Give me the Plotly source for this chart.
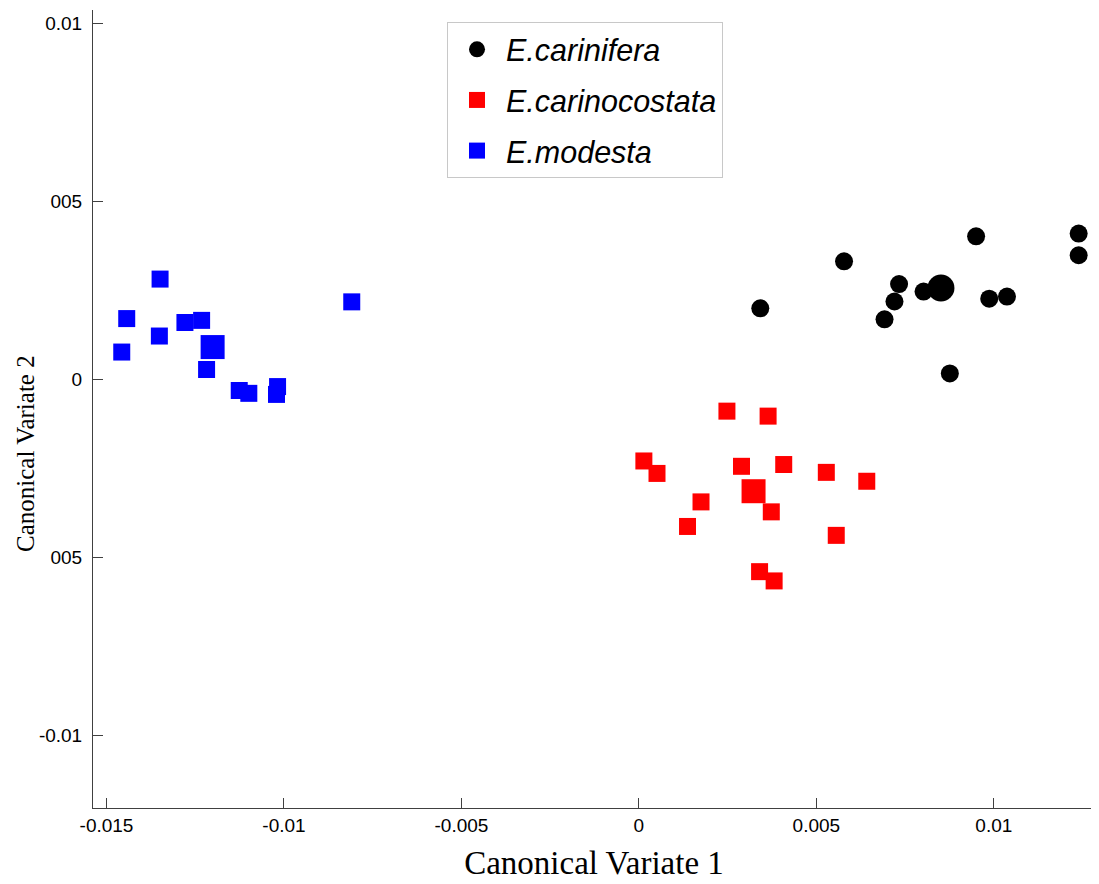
import plotly.graph_objects as go

# ---- data (canonical variate scores) ----
carinifera_x = [0.00342, 0.00578, 0.00950, 0.01239, 0.01239, 0.00733, 0.00720, 0.00692,
                0.00802, 0.00987, 0.01037, 0.00876]
carinifera_y = [0.00199, 0.00331, 0.00401, 0.00409, 0.00348, 0.00267, 0.00218, 0.00168,
                0.00246, 0.00226, 0.00232, 0.00016]
carinifera_mean = (0.00851, 0.00256)

carinocostata_x = [0.00248, 0.00364, 0.00014, 0.00051, 0.00289, 0.00408, 0.00528, 0.00642,
                   0.00373, 0.00175, 0.00137, 0.00556, 0.00340, 0.00381]
carinocostata_y = [-0.00090, -0.00104, -0.00230, -0.00265, -0.00245, -0.00240, -0.00262, -0.00287,
                   -0.00373, -0.00345, -0.00414, -0.00439, -0.00541, -0.00567]
carinocostata_mean = (0.00323, -0.00315)

modesta_x = [-0.01349, -0.01443, -0.01457, -0.01351, -0.01279, -0.01232, -0.01218, -0.01126,
             -0.01099, -0.01018, -0.01021, -0.00809]
modesta_y = [0.00281, 0.00170, 0.00076, 0.00121, 0.00159, 0.00165, 0.00027, -0.00032,
             -0.00040, -0.00021, -0.00043, 0.00217]
modesta_mean = (-0.01201, 0.00090)

species = ["E.carinifera", "E.carinocostata", "E.modesta"]

x_tickvals = [-0.015, -0.01, -0.005, 0, 0.005, 0.01]
x_ticktext = ["-0.015", "-0.01", "-0.005", "0", "0.005", "0.01"]
y_tickvals = [0.01, 0.005, 0, -0.005, -0.01]
y_ticktext = ["0.01", "005", "0", "005", "-0.01"]

x_title = "Canonical Variate 1"
y_title = "Canonical Variate 2"

# ---- figure ----
fig = go.Figure()

groups = [
    (species[0], carinifera_x, carinifera_y, carinifera_mean, "circle", "#000000", 18, 27),
    (species[1], carinocostata_x, carinocostata_y, carinocostata_mean, "square", "#FF0000", 17, 24),
    (species[2], modesta_x, modesta_y, modesta_mean, "square", "#0000FF", 17, 24),
]

for name, xs, ys, mean, sym, col, sz, msz in groups:
    fig.add_trace(go.Scatter(
        x=xs, y=ys, mode="markers", name="<i>" + name + "</i>", legendgroup=name,
        marker=dict(symbol=sym, color=col, size=sz, line=dict(width=0)),
    ))
    fig.add_trace(go.Scatter(
        x=[mean[0]], y=[mean[1]], mode="markers", name=name + " mean",
        legendgroup=name, showlegend=False,
        marker=dict(symbol=sym, color=col, size=msz, line=dict(width=0)),
    ))

axis_color = "#404040"
tick_font = dict(family="Liberation Sans, Arial, sans-serif", size=19, color="black")
serif = "Liberation Serif, Times New Roman, serif"

fig.update_layout(
    width=1091, height=876,
    margin=dict(l=85, r=4, t=2, b=76),
    paper_bgcolor="white", plot_bgcolor="white",
    showlegend=True,
    legend=dict(
        x=0.3533, y=0.985, xanchor="left", yanchor="top",
        bordercolor="#c8c8c8", borderwidth=1, bgcolor="white",
        font=dict(family="Liberation Sans, Arial, sans-serif", size=30.5, color="black"),
        itemwidth=48, tracegroupgap=8,
    ),
    xaxis=dict(
        range=[-0.01538, 0.01285], showgrid=False, zeroline=False,
        showline=True, linecolor=axis_color, linewidth=1,
        ticks="inside", ticklen=10, tickcolor=axis_color, tickwidth=1,
        tickvals=x_tickvals, ticktext=x_ticktext, tickfont=tick_font,
        title=dict(text=x_title, standoff=16,
                   font=dict(family=serif, size=33, color="black")),
    ),
    yaxis=dict(
        range=[-0.01205, 0.01037], showgrid=False, zeroline=False,
        showline=True, linecolor=axis_color, linewidth=1,
        ticks="inside", ticklen=10, tickcolor=axis_color, tickwidth=1,
        tickvals=y_tickvals, ticktext=y_ticktext, tickfont=tick_font,
        ticklabelstandoff=6,
    ),
    annotations=[dict(
        text=y_title, textangle=-90, showarrow=False,
        xref="paper", yref="paper", x=0, y=0.4436, xshift=-68,
        xanchor="center", yanchor="middle",
        font=dict(family=serif, size=25, color="black"),
    )],
)

fig.write_html("out.html")
